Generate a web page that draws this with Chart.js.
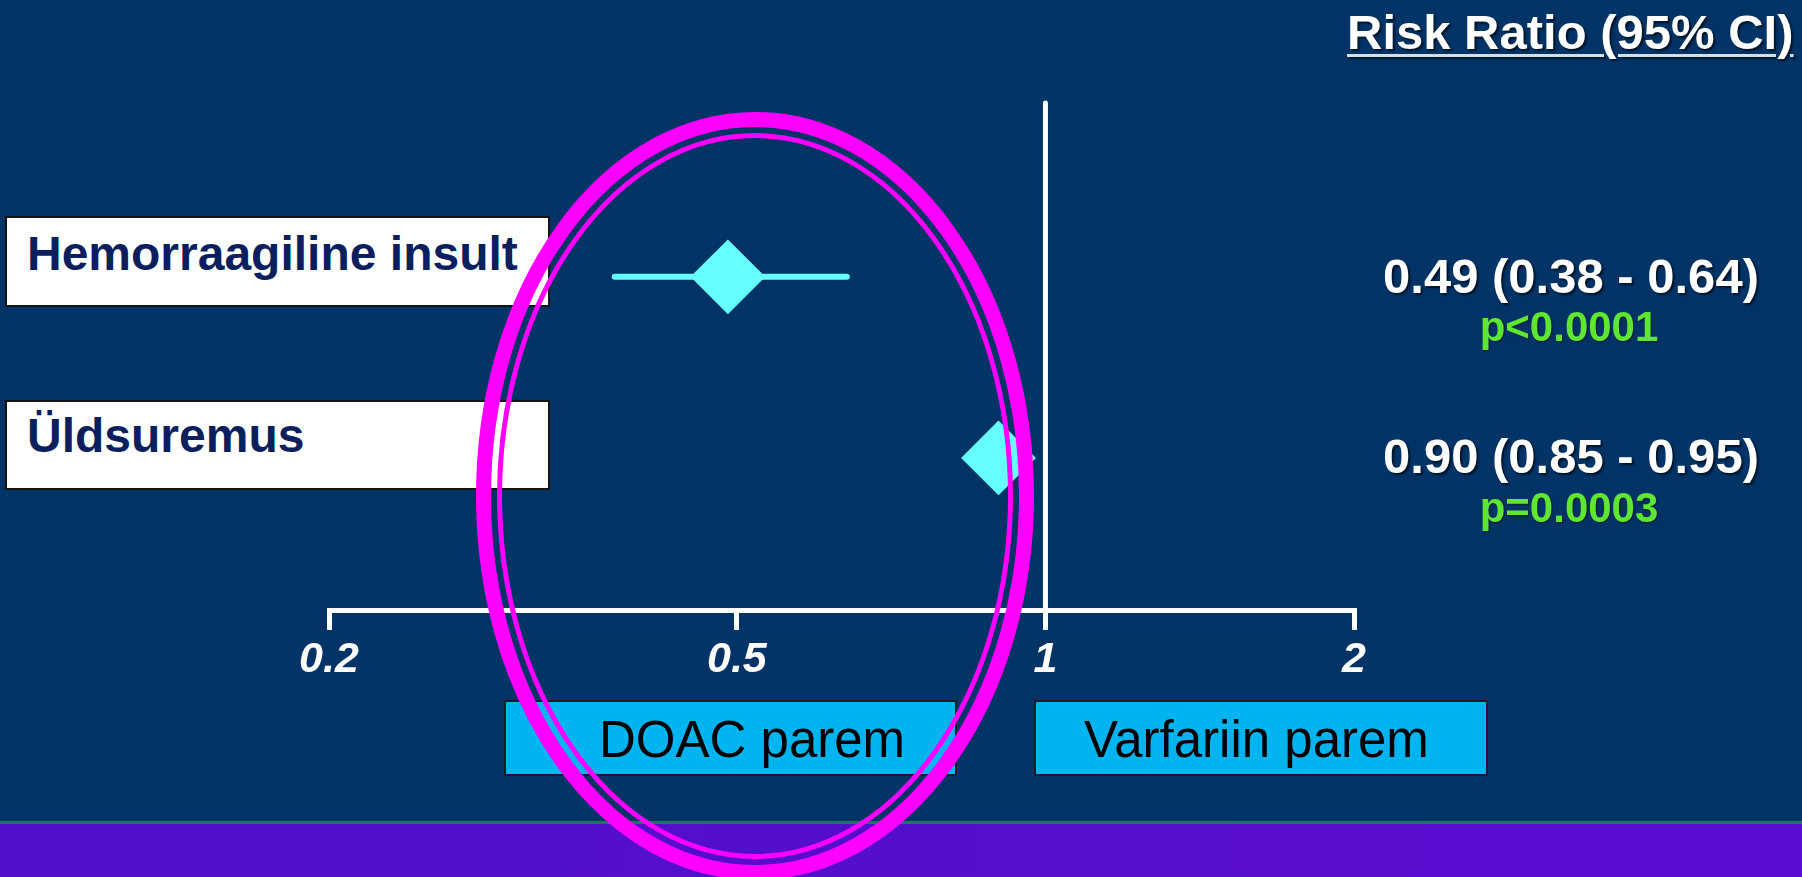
<!DOCTYPE html>
<html lang="et">
<head>
<meta charset="utf-8">
<title>Risk Ratio (95% CI)</title>
<script src="https://cdn.jsdelivr.net/npm/chart.js@4.4.1/dist/chart.umd.min.js"></script>
<style>
  html, body { margin: 0; padding: 0; background: #003366; }
  #stage {
    position: relative; width: 1802px; height: 877px; overflow: hidden;
    background: #003366;
    font-family: "Liberation Sans", Arial, Helvetica, sans-serif;
  }
  #chart { position: absolute; left: 0; top: 0; }
  .abs { position: absolute; white-space: nowrap; }
  .rowbox { position: absolute; box-sizing: border-box; left: 5px; width: 545px;
            background: #ffffff; border: 2px solid #151515; }
  .rowlabel { font-weight: bold; font-size: 48px; line-height: 48px; color: #0b1f5e; }
  .rr { font-weight: bold; font-size: 49px; line-height: 49px; color: #ffffff;
        text-align: center; width: 440px; left: 1351px;
        text-shadow: 2px 2px 2px rgba(0,0,0,0.6); }
  .pv { font-weight: bold; font-size: 42px; line-height: 42px; color: #5fe632;
        text-align: center; width: 440px; left: 1349px;
        text-shadow: 1px 1px 2px rgba(0,0,0,0.5); }
  #head { left: 1347px; top: 8px; font-weight: bold; font-size: 49px; line-height: 49px;
          color: #ffffff; text-decoration: underline; text-decoration-thickness: 3px;
          text-underline-offset: 5px; text-decoration-color: #d8dde8;
          text-shadow: 2px 2px 2px rgba(0,0,0,0.6); }
  .sidebox { position: absolute; box-sizing: border-box; top: 700px; height: 76px;
             background: #00b4f0; border: 2px solid #1a1a2a; }
  .sidelabel { font-size: 51px; line-height: 51px; color: #000000; }
  #band-line { position: absolute; left: 0; top: 821px; width: 1802px; height: 3px; background: #1b7560; }
  #band { position: absolute; left: 0; top: 824px; width: 1802px; height: 53px;
          background: linear-gradient(90deg, #500fc9, #5a0bd0); }
  #ring { position: absolute; left: 0; top: 0; pointer-events: none; }
</style>
</head>
<body>
<div id="stage">
  <canvas id="chart" width="1802" height="877"></canvas>

  <div class="rowbox" style="top:216px;height:91px;"></div>
  <div class="rowbox" style="top:400px;height:90px;"></div>
  <div id="label0" class="abs rowlabel" style="left:27px;top:230px;"></div>
  <div id="label1" class="abs rowlabel" style="left:27px;top:412px;"></div>

  <div id="head" class="abs">Risk Ratio (95% CI)</div>
  <div id="rr0" class="abs rr" style="top:252px;"></div>
  <div id="pv0" class="abs pv" style="top:306px;"></div>
  <div id="rr1" class="abs rr" style="top:432px;"></div>
  <div id="pv1" class="abs pv" style="top:487px;"></div>

  <div class="sidebox" style="left:504px;width:453px;"></div>
  <div class="sidebox" style="left:1034px;width:454px;"></div>
  <div id="side0" class="abs sidelabel" style="left:599px;top:714px;"></div>
  <div id="side1" class="abs sidelabel" style="left:1084px;top:714px;"></div>

  <div id="band-line"></div>
  <div id="band"></div>

  <svg id="ring" width="1802" height="877">
    <ellipse cx="755" cy="496" rx="271.5" ry="376.5" fill="none" stroke="#ff00ff" stroke-width="15"/>
    <ellipse cx="755" cy="496" rx="255.5" ry="360.5" fill="none" stroke="#ff00ff" stroke-width="5"/>
  </svg>
</div>

<script>
// Outcomes and their risk ratios with 95% confidence intervals
const outcomes  = ['Hemorraagiline insult', 'Üldsuremus'];
const riskRatio = [0.49, 0.90];
const ciLow     = [0.38, 0.85];
const ciHigh    = [0.64, 0.95];
const pValues   = ['p<0.0001', 'p=0.0003'];
const xTicks    = [0.2, 0.5, 1, 2];
const sideNames = ['DOAC parem', 'Varfariin parem'];

// Row index on the (hidden) vertical scale: first outcome on top
const rowPos = outcomes.map((_, i) => i + 1);

// Text blocks built from the same values as the marks
outcomes.forEach((name, i) => {
  document.getElementById('label' + i).textContent = name;
  document.getElementById('rr' + i).textContent =
    riskRatio[i].toFixed(2) + ' (' + ciLow[i].toFixed(2) + ' - ' + ciHigh[i].toFixed(2) + ')';
  document.getElementById('pv' + i).textContent = pValues[i];
});
sideNames.forEach((s, i) => { document.getElementById('side' + i).textContent = s; });

const CYAN = '#66ffff';

// Vertical line of no effect (RR = 1)
const noEffectLine = {
  id: 'noEffectLine',
  beforeDatasetsDraw(chart) {
    const { ctx, chartArea, scales } = chart;
    const x = scales.x.getPixelForValue(1);
    ctx.save();
    ctx.strokeStyle = '#ffffff';
    ctx.lineWidth = 5;
    ctx.lineCap = 'round';
    ctx.beginPath();
    ctx.moveTo(x, chartArea.top);
    ctx.lineTo(x, chartArea.bottom);
    ctx.stroke();
    ctx.restore();
  }
};

const ciDatasets = outcomes.map((_, i) => ({
  type: 'scatter',
  showLine: true,
  data: [{ x: ciLow[i], y: rowPos[i] }, { x: ciHigh[i], y: rowPos[i] }],
  borderColor: CYAN,
  borderWidth: 6,
  borderCapStyle: 'round',
  pointRadius: 0,
  clip: false
}));

new Chart(document.getElementById('chart'), {
  type: 'scatter',
  data: {
    datasets: [
      {
        data: riskRatio.map((v, i) => ({ x: v, y: rowPos[i] })),
        pointStyle: 'rectRot',
        pointRadius: 36,
        backgroundColor: CYAN,
        borderColor: CYAN,
        borderWidth: 2,
        clip: false
      },
      ...ciDatasets
    ]
  },
  options: {
    responsive: false,
    animation: false,
    devicePixelRatio: 1,
    events: [],
    layout: { padding: { left: 329, right: 448, top: 103, bottom: 195 } },
    plugins: { legend: { display: false }, tooltip: { enabled: false } },
    scales: {
      x: {
        type: 'logarithmic',
        min: 0.2,
        max: 2,
        afterBuildTicks(scale) { scale.ticks = xTicks.map(v => ({ value: v })); },
        afterFit(scale) { scale.height = 72; },
        border: { display: true, color: '#ffffff', width: 5 },
        grid: { drawOnChartArea: false, color: '#ffffff', lineWidth: 5, tickLength: 20 },
        ticks: {
          autoSkip: false,
          maxRotation: 0,
          padding: 4,
          color: '#ffffff',
          font: { family: 'Liberation Sans', size: 43, weight: 'bold', style: 'italic' },
          callback: v => String(v)
        }
      },
      y: {
        type: 'linear',
        display: false,
        reverse: true,
        min: 0.04,
        max: 2.84
      }
    }
  },
  plugins: [noEffectLine]
});
</script>
</body>
</html>
